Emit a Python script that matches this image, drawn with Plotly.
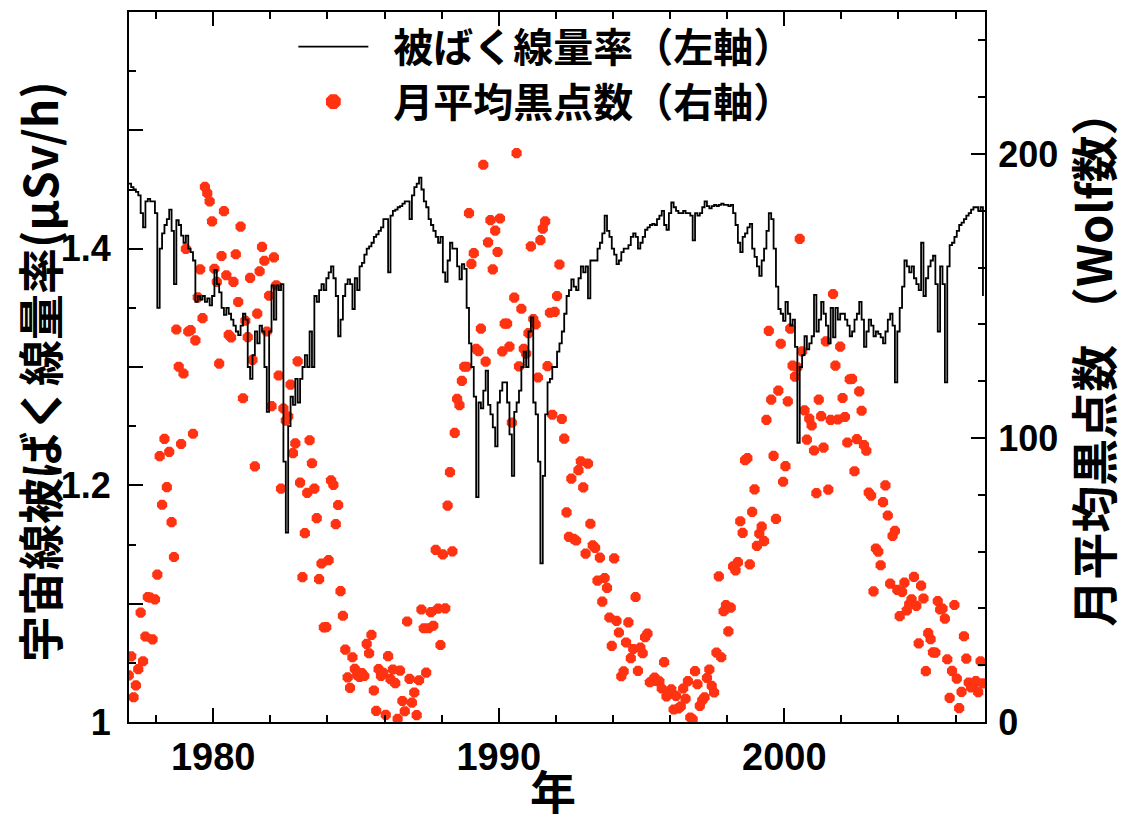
import plotly.graph_objects as go

# ---------------- data (monthly, Jan 1977 - Dec 2006) ----------------
start_year = 1977

# cosmic-ray dose rate (µSv/h), left axis
dose_rate = [
    # 1977
    1.455, 1.452, 1.450, 1.448, 1.445, 1.430, 1.418, 1.440, 1.442, 1.440, 1.440, 1.430,
    # 1978
    1.350, 1.400, 1.413, 1.420, 1.425, 1.433, 1.415, 1.370, 1.424, 1.420, 1.411, 1.405,
    # 1979
    1.411, 1.400, 1.397, 1.390, 1.355, 1.360, 1.357, 1.360, 1.355, 1.358, 1.352, 1.360,
    # 1980
    1.382, 1.370, 1.363, 1.350, 1.344, 1.350, 1.345, 1.340, 1.335, 1.330, 1.327, 1.335,
    # 1981
    1.345, 1.340, 1.300, 1.290, 1.310, 1.330, 1.320, 1.335, 1.330, 1.300, 1.262, 1.330,
    # 1982
    1.369, 1.340, 1.369, 1.365, 1.370, 1.220, 1.160, 1.250, 1.275, 1.268, 1.290, 1.270,
    # 1983
    1.290, 1.300, 1.310, 1.300, 1.330, 1.300, 1.360, 1.355, 1.365, 1.370, 1.365, 1.375,
    # 1984
    1.380, 1.385, 1.375, 1.360, 1.326, 1.340, 1.360, 1.370, 1.374, 1.370, 1.349, 1.375,
    # 1985
    1.365, 1.385, 1.388, 1.395, 1.400, 1.402, 1.405, 1.410, 1.412, 1.415, 1.418, 1.425,
    # 1986
    1.425, 1.380, 1.428, 1.432, 1.433, 1.435, 1.436, 1.438, 1.440, 1.440, 1.425, 1.445,
    # 1987
    1.452, 1.455, 1.460, 1.450, 1.440, 1.435, 1.425, 1.420, 1.415, 1.410, 1.405, 1.410,
    # 1988
    1.380, 1.372, 1.390, 1.405, 1.400, 1.400, 1.385, 1.374, 1.387, 1.383, 1.350, 1.320,
    # 1989
    1.300, 1.275, 1.190, 1.270, 1.265, 1.280, 1.297, 1.268, 1.260, 1.249, 1.233, 1.270,
    # 1990
    1.280, 1.287, 1.287, 1.270, 1.243, 1.208, 1.262, 1.270, 1.280, 1.300, 1.313, 1.300,
    # 1991
    1.330, 1.342, 1.270, 1.260, 1.220, 1.134, 1.208, 1.260, 1.287, 1.290, 1.300, 1.300,
    # 1992
    1.313, 1.320, 1.330, 1.345, 1.360, 1.365, 1.374, 1.368, 1.365, 1.375, 1.385, 1.380,
    # 1993
    1.385, 1.358, 1.390, 1.390, 1.390, 1.400, 1.405, 1.413, 1.428, 1.415, 1.410, 1.400,
    # 1994
    1.395, 1.387, 1.390, 1.397, 1.400, 1.400, 1.403, 1.410, 1.413, 1.410, 1.400, 1.405,
    # 1995
    1.410, 1.416, 1.418, 1.420, 1.421, 1.420, 1.425, 1.428, 1.432, 1.420, 1.416, 1.430,
    # 1996
    1.439, 1.435, 1.432, 1.430, 1.430, 1.432, 1.430, 1.430, 1.428, 1.407, 1.430, 1.428,
    # 1997
    1.430, 1.435, 1.440, 1.436, 1.434, 1.436, 1.437, 1.436, 1.437, 1.438, 1.437, 1.437,
    # 1998
    1.436, 1.437, 1.430, 1.420, 1.405, 1.397, 1.410, 1.413, 1.418, 1.421, 1.400, 1.393,
    # 1999
    1.385, 1.377, 1.390, 1.400, 1.415, 1.430, 1.425, 1.400, 1.368, 1.349, 1.345, 1.339,
    # 2000
    1.355, 1.345, 1.335, 1.340, 1.317, 1.236, 1.300, 1.310, 1.326, 1.315, 1.320, 1.326,
    # 2001
    1.361, 1.330, 1.340, 1.355, 1.345, 1.335, 1.320, 1.350, 1.325, 1.350, 1.340, 1.345,
    # 2002
    1.345, 1.340, 1.335, 1.326, 1.330, 1.340, 1.345, 1.355, 1.340, 1.317, 1.330, 1.340,
    # 2003
    1.335, 1.326, 1.330, 1.328, 1.325, 1.320, 1.330, 1.340, 1.345, 1.335, 1.287, 1.330,
    # 2004
    1.350, 1.368, 1.390, 1.385, 1.380, 1.385, 1.375, 1.370, 1.365, 1.405, 1.360, 1.375,
    # 2005
    1.385, 1.390, 1.394, 1.370, 1.330, 1.385, 1.370, 1.287, 1.385, 1.403, 1.405, 1.410,
    # 2006
    1.415, 1.420, 1.422, 1.425, 1.428, 1.430, 1.433, 1.435, 1.435, 1.432, 1.435, 1.360,
]

# monthly mean sunspot number (Wolf number), right axis
sunspots = [
    # 1977
    16.4, 23.1, 8.7, 12.9, 18.6, 38.5, 21.4, 30.1, 44.0, 43.8, 29.1, 43.2,
    # 1978
    51.9, 93.6, 76.5, 99.7, 82.7, 95.1, 70.4, 58.1, 138.2, 125.1, 97.9, 122.7,
    # 1979
    166.6, 137.5, 138.0, 101.5, 134.4, 149.5, 159.4, 142.2, 188.4, 186.2, 183.3, 176.3,
    # 1980
    159.6, 155.0, 126.2, 164.1, 179.9, 157.3, 136.3, 135.4, 155.0, 164.7, 147.9, 174.4,
    # 1981
    114.0, 141.3, 135.5, 156.4, 127.5, 90.0, 143.8, 158.7, 167.3, 162.4, 137.5, 150.1,
    # 1982
    111.2, 163.6, 153.8, 122.0, 82.2, 110.4, 106.1, 107.6, 118.8, 94.7, 98.1, 127.0,
    # 1983
    84.3, 51.0, 66.5, 80.7, 99.2, 91.1, 82.2, 71.8, 50.3, 55.8, 33.3, 33.4,
    # 1984
    57.0, 85.1, 83.5, 69.7, 76.4, 46.1, 37.4, 25.5, 15.7, 12.0, 22.8, 18.7,
    # 1985
    16.5, 15.9, 17.2, 16.2, 27.5, 24.2, 30.7, 11.1, 3.9, 18.6, 16.2, 17.3,
    # 1986
    2.5, 23.2, 15.1, 18.5, 13.7, 1.1, 18.1, 7.4, 3.8, 35.4, 15.2, 6.8,
    # 1987
    10.4, 2.4, 14.7, 39.6, 33.0, 17.4, 33.0, 38.7, 33.9, 60.6, 39.9, 27.1,
    # 1988
    59.0, 40.0, 76.2, 88.0, 60.1, 101.8, 113.8, 111.6, 120.1, 125.1, 125.1, 179.2,
    # 1989
    161.3, 165.1, 131.4, 130.6, 138.5, 196.2, 126.9, 168.9, 176.7, 159.4, 173.0, 165.5,
    # 1990
    177.3, 130.5, 140.3, 140.3, 132.2, 105.4, 149.4, 200.3, 125.2, 145.5, 131.4, 129.7,
    # 1991
    136.9, 167.5, 141.9, 140.0, 121.3, 169.7, 173.7, 176.3, 125.3, 144.1, 108.2, 144.4,
    # 1992
    150.0, 161.1, 106.7, 99.8, 73.8, 65.2, 85.7, 64.5, 63.9, 88.7, 91.8, 82.6,
    # 1993
    59.3, 91.0, 69.8, 62.2, 61.3, 49.8, 57.9, 42.4, 50.7, 47.2, 36.8, 26.8,
    # 1994
    57.6, 35.6, 31.5, 16.1, 17.8, 28.0, 35.1, 22.5, 25.7, 44.0, 18.0, 26.2,
    # 1995
    24.2, 29.9, 31.1, 14.0, 14.5, 15.6, 14.5, 14.3, 11.8, 21.1, 9.0, 10.0,
    # 1996
    11.5, 4.4, 9.2, 4.8, 5.5, 11.8, 8.2, 14.4, 1.6, 0.9, 17.9, 13.3,
    # 1997
    5.7, 7.6, 8.7, 15.5, 18.5, 12.7, 10.4, 24.4, 51.3, 22.8, 39.0, 41.2,
    # 1998
    31.9, 40.3, 54.8, 53.4, 56.3, 70.7, 66.6, 92.2, 92.9, 55.5, 74.0, 81.9,
    # 1999
    62.0, 66.3, 68.8, 63.7, 106.4, 137.7, 113.5, 93.7, 71.5, 116.7, 133.2, 84.6,
    # 2000
    90.1, 112.9, 138.5, 125.5, 121.6, 124.9, 170.1, 130.5, 109.7, 99.4, 106.8, 104.4,
    # 2001
    95.6, 80.6, 113.5, 107.7, 96.6, 134.0, 81.8, 106.4, 150.7, 125.5, 106.5, 132.2,
    # 2002
    114.1, 107.4, 98.4, 120.7, 120.8, 88.3, 99.6, 116.4, 109.6, 97.5, 95.5, 80.8,
    # 2003
    79.7, 46.0, 61.1, 60.0, 55.2, 77.4, 83.3, 72.7, 48.7, 65.5, 67.3, 46.5,
    # 2004
    37.3, 45.8, 49.1, 39.3, 41.5, 43.2, 51.1, 40.9, 27.7, 48.0, 43.5, 17.9,
    # 2005
    31.3, 29.2, 24.5, 24.4, 42.6, 39.6, 39.9, 36.4, 22.1, 8.5, 18.0, 41.2,
    # 2006
    15.3, 4.9, 10.6, 30.2, 22.3, 13.9, 12.2, 12.9, 14.4, 10.5, 21.4, 13.6,
]

x_ticks = [1980, 1990, 2000]
left_tickvals = [1.0, 1.1, 1.2, 1.3, 1.4, 1.5]
left_ticktext = ["1", "", "1.2", "", "1.4", ""]
right_tickvals = [0, 100, 200]

name_dose = "\u2002被ばく線量率（左軸）"
name_spots = "\u2002月平均黒点数（右軸）"
title_left = "宇宙線被ばく線量率(μSv/h)"
title_right = "月平均黒点数 （Wolf数）"
title_x = "年"

# ---------------- figure ----------------
t = [start_year + (i + 0.5) / 12 for i in range(len(dose_rate))]

RED = "#FF3311"
XTICKFONT = dict(family="Liberation Sans, Arial, sans-serif", size=38, color="black", weight="bold")
YTICKFONT = dict(family="Liberation Sans, Arial, sans-serif", size=36, color="black", weight="bold")
CJK = "Noto Sans CJK JP, sans-serif"

fig = go.Figure()
fig.add_trace(go.Scatter(
    x=t, y=sunspots, mode="markers", name=name_spots, yaxis="y",
    marker=dict(color=RED, size=11, symbol="octagon", line=dict(width=0)),
    showlegend=False,
))
# legend entry for the sunspot markers (larger symbol, no data of its own)
fig.add_trace(go.Scatter(
    x=[None], y=[None], mode="markers", name=name_spots, yaxis="y",
    marker=dict(color=RED, size=18, symbol="octagon", line=dict(width=0)),
    legendrank=2, legendgroup="b",
))
fig.add_trace(go.Scatter(
    x=t, y=dose_rate, mode="lines", name=name_dose, yaxis="y2",
    line=dict(color="black", width=1.8, shape="hv"),
    legendrank=1, legendgroup="a",
))

axis_common = dict(
    showline=True, linewidth=2, linecolor="black", showgrid=False, zeroline=False,
    ticks="inside", ticklen=14, tickwidth=2, tickcolor="black",
)

fig.update_layout(
    width=1125, height=825,
    margin=dict(l=129, r=140, t=10, b=103),
    paper_bgcolor="white", plot_bgcolor="white",
    xaxis=dict(
        **axis_common, tickfont=XTICKFONT, range=[1977.05, 2007.03], tickvals=x_ticks, mirror="ticks",
        minor=dict(dtick=2, tick0=1978, ticks="inside", ticklen=7, tickwidth=2, tickcolor="black"),
        ticklabelstandoff=0,
    ),
    yaxis=dict(
        **axis_common, tickfont=YTICKFONT, range=[0, 250], side="right", tickvals=right_tickvals,
        minor=dict(dtick=20, tick0=0, ticks="inside", ticklen=7, tickwidth=2, tickcolor="black"),
        ticklabelstandoff=4,
    ),
    yaxis2=dict(
        **axis_common, tickfont=YTICKFONT, range=[1.0, 1.6], side="left", overlaying="y",
        tickvals=left_tickvals, ticktext=left_ticktext,
        minor=dict(dtick=0.05, tick0=1.0, ticks="inside", ticklen=7, tickwidth=2, tickcolor="black"),
        ticklabelstandoff=9,
    ),
    showlegend=True,
    legend=dict(
        x=0.192, y=0.997, xanchor="left", yanchor="top",
        bgcolor="rgba(0,0,0,0)", borderwidth=0,
        font=dict(family=CJK, size=40, color="black", weight="bold"),
        itemwidth=70, traceorder="grouped", tracegroupgap=0,
    ),
    annotations=[
        dict(text=title_left, xref="paper", yref="paper", x=-0.1063, y=0.493,
             textangle=-90, showarrow=False, xanchor="center", yanchor="middle",
             font=dict(family=CJK, size=46, color="black", weight="bold")),
        dict(text=title_right, xref="paper", yref="paper", x=1.125, y=0.513,
             textangle=-90, showarrow=False, xanchor="center", yanchor="middle",
             font=dict(family=CJK, size=47, color="black", weight="bold")),
        dict(text=title_x, xref="paper", yref="paper", x=0.495, y=-0.1433,
             showarrow=False, xanchor="center", yanchor="bottom",
             font=dict(family=CJK, size=46, color="black", weight="bold")),
    ],
)

fig.write_html("out.html", config={"displayModeBar": False},
               post_script="document.body.style.margin='0';")
